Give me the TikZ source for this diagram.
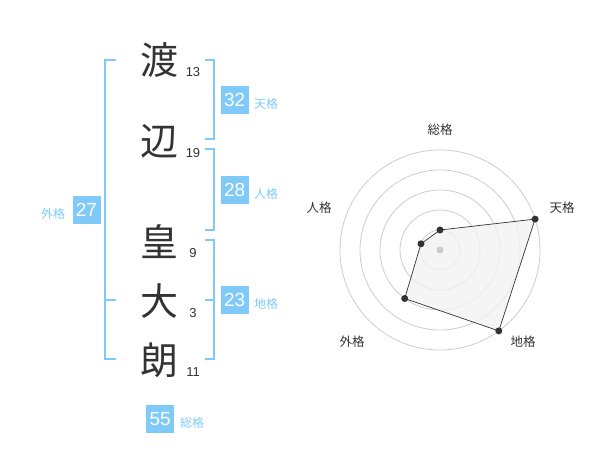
\documentclass[tikz,border=0pt]{standalone}
\usepackage{fontspec}
\setmainfont{Liberation Sans}
\newfontfamily\jp{Noto Sans CJK JP}
\definecolor{kblue}{RGB}{128,202,250}
\definecolor{ink}{RGB}{51,51,51}
\definecolor{ring}{RGB}{204,204,204}
\begin{document}
\begin{tikzpicture}[x=1pt,y=-1pt,
  kanji/.style={text=ink,font=\jp\fontsize{38}{38}\selectfont,inner sep=0pt},
  strokes/.style={text=ink,font=\fontsize{13}{13}\selectfont,inner sep=0pt},
  bracket/.style={draw=kblue,line width=2pt},
  numbox/.style={fill=kblue,text=white,font=\fontsize{19}{19}\selectfont,minimum width=28pt,minimum height=28pt,inner sep=0pt},
  kaku/.style={text=kblue,font=\jp\fontsize{12}{12}\selectfont,inner sep=0pt},
  ringline/.style={draw=ring,line width=0.8pt},
  axislabel/.style={text=ink,font=\jp\fontsize{12.5}{12.5}\selectfont,inner sep=0pt},
  dot/.style={circle,fill=ink,minimum size=7pt,inner sep=0pt}
]
\useasboundingbox (0,0) rectangle (600,470);
% characters
\node[kanji] (c1) at (159,60) {渡};
\node[kanji] (c2) at (159,141) {辺};
\node[kanji] (c3) at (159,242) {皇};
\node[kanji] (c4) at (159,301) {大};
\node[kanji] (c5) at (159,360) {朗};
% stroke counts
\node[strokes] (s1) at (193,72) {13};
\node[strokes] (s2) at (193,153) {19};
\node[strokes] (s3) at (193,253) {9};
\node[strokes] (s4) at (193,313) {3};
\node[strokes] (s5) at (193,372) {11};
% bracket corners
\coordinate (lt) at (116,60); \coordinate (lb) at (116,359); \coordinate (lm) at (116,300);
\coordinate (tt) at (205,60); \coordinate (tb) at (205,139);
\coordinate (jt) at (205,149); \coordinate (jb) at (205,230);
\coordinate (ct) at (205,240); \coordinate (cb) at (205,359); \coordinate (cm) at (205,300);
% boxes
\node[numbox] (ten) at (234.7,100) {32};
\node[numbox] (jin) at (234.7,190) {28};
\node[numbox] (chi) at (234.7,300) {23};
\node[numbox] (gai) at (86.5,210) {27};
\node[numbox] (sou) at (160.2,419) {55};
% brackets
\draw[bracket] (lt) -- ++(-11,0) |- (lb);
\draw[bracket] (lm) -- ++(-11,0);
\draw[bracket] (tt) -- ++(9,0) |- (tb);
\draw[bracket] (jt) -- ++(9,0) |- (jb);
\draw[bracket] (ct) -- ++(9,0) |- (cb);
\draw[bracket] (cm) -- ++(9,0);
% labels
\node[kaku] (tenl) at (266,104) {天格};
\node[kaku] (jinl) at (266,194) {人格};
\node[kaku] (chil) at (266,304) {地格};
\node[kaku] (gail) at (53,214) {外格};
\node[kaku] (soul) at (192,423) {総格};
% radar
\coordinate (O) at (440,250);
\foreach \r in {20,40,60,80,100} \draw[ringline] (O) circle[radius=\r];
\coordinate (pS) at (440,230);
\coordinate (pT) at (535.1,219.1);
\coordinate (pC) at (498.8,330.9);
\coordinate (pG) at (404.7,298.5);
\coordinate (pJ) at (421,243.8);
\fill[black!5,fill opacity=0.8] (pS) -- (pT) -- (pC) -- (pG) -- (pJ) -- cycle;
\node[circle,fill=ring,minimum size=7pt,inner sep=0pt] (ctr) at (O) {};
\draw[draw=ink,line width=0.7pt] (pS) -- (pT) -- (pC) -- (pG) -- (pJ) -- cycle;
\foreach \p in {pS,pT,pC,pG,pJ} \node[dot] at (\p) {};
\node[axislabel] (aS) at (440,130) {総格};
\node[axislabel] (aT) at (562,208) {天格};
\node[axislabel] (aJ) at (319,208) {人格};
\node[axislabel] (aG) at (352,342) {外格};
\node[axislabel] (aC) at (523,342) {地格};
\end{tikzpicture}
\end{document}
